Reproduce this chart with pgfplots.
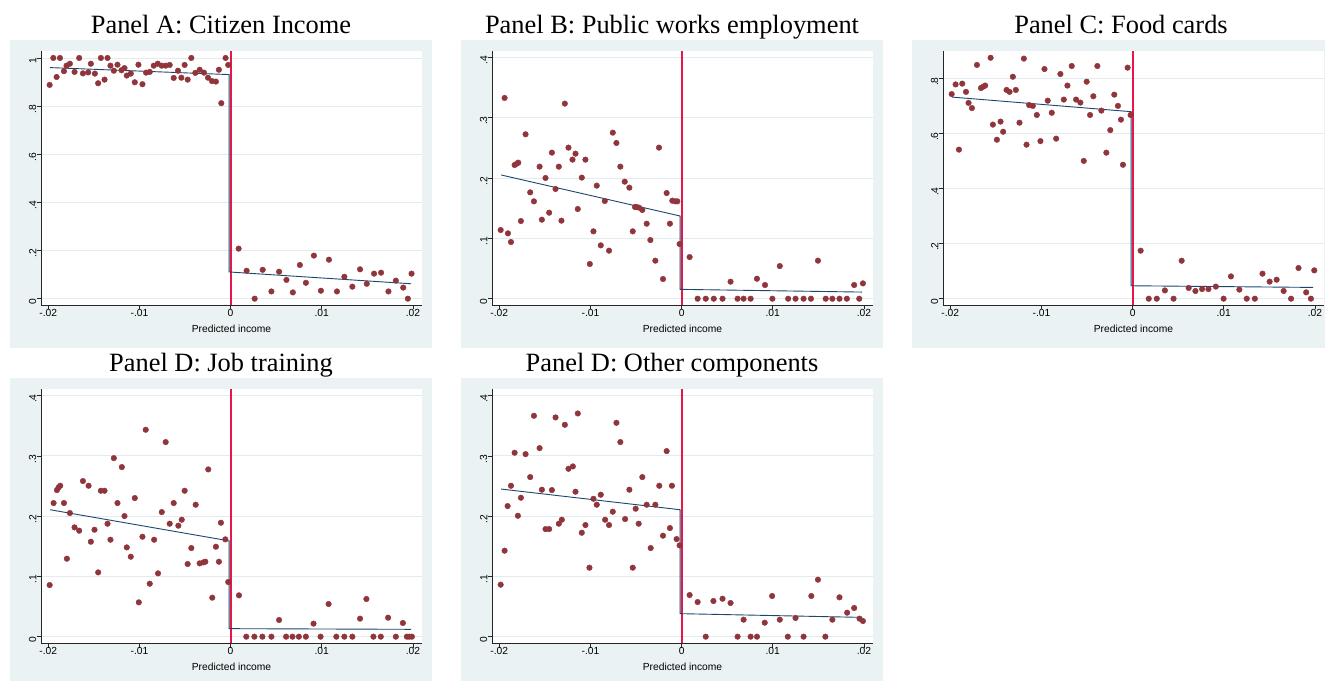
\documentclass[border=0pt]{standalone}
\usepackage{fontspec}
\setmainfont{Liberation Serif}
\setsansfont{Liberation Sans}
\usepackage{pgfplots}
\pgfplotsset{compat=1.18}
\definecolor{bgc}{HTML}{EAF2F3}
\definecolor{gridc}{HTML}{E2EBED}
\definecolor{mkc}{HTML}{90353B}
\definecolor{fitc}{HTML}{1A476F}
\definecolor{xlc}{HTML}{E8174A}
\pgfplotsset{
 panel/.style={
  scale only axis, width=381bp, height=254bp,
  xmin=-0.0208, xmax=0.0210,
  scaled x ticks=false, scaled y ticks=false,
  axis lines*=left, axis line style={-, black!85, line width=0.9bp},
  tick align=outside, major tick length=4.5bp,
  every tick/.style={black!85, line width=0.7bp},
  xtick={-0.02,-0.01,0,0.01,0.02},
  xticklabels={-.02,-.01,0,.01,.02},
  ymajorgrids, grid style={gridc, line width=0.9bp},
  axis background/.style={fill=white},
  tick label style={font=\sffamily\fontsize{10.3}{12}\selectfont},
  yticklabel style={rotate=90, anchor=south, inner sep=0pt, xshift=-3bp},
  xticklabel style={anchor=north, inner sep=0pt},
  xlabel={Predicted income},
  xlabel style={font=\sffamily\fontsize{10.3}{12}\selectfont, at={(axis description cs:0.5,0)}, anchor=center, yshift=-23.5bp},
  anchor=south west,
 },
 pts/.style={only marks, mark=*, mark size=2.8bp, mark options={fill=mkc, draw=mkc}, draw=mkc},
 fitl/.style={draw=fitc, line width=0.9bp, no marks},
 zl/.style={draw=xlc, line width=1.2bp, no marks},
}
\begin{document}
\begin{tikzpicture}[x=1bp,y=1bp]
\useasboundingbox (0,0) rectangle (1325,681);
% panel backgrounds
\fill[bgc] (10,333) rectangle (432,641);
\fill[bgc] (461,333) rectangle (883,641);
\fill[bgc] (912,333) rectangle (1325,641);
\fill[bgc] (10,0) rectangle (432,303);
\fill[bgc] (461,0) rectangle (883,303);
% titles
\begin{scope}[every node/.style={font=\fontsize{26.5}{30}\selectfont, anchor=base}]
\node at (221,647) {Panel A: Citizen Income};
\node at (672,647) {Panel B: Public works employment};
\node at (1121,647) {Panel C: Food cards};
\node at (221,309) {Panel D: Job training};
\node at (672,309) {Panel D: Other components};
\end{scope}

% ---------- Panel A
\begin{axis}[panel, at={(41bp,376bp)}, ymin=-0.0262, ymax=1.029,
  ytick={0,0.2,0.4,0.6,0.8,1}, yticklabels={0,.2,.4,.6,.8,1}]
\addplot[pts] coordinates {
(-0.01985,0.888) (-0.01945,1.0) (-0.01909,0.921) (-0.01872,1.0) (-0.01828,0.945)
(-0.0180,0.968) (-0.01763,0.976) (-0.01712,0.942) (-0.01661,1.0) (-0.0162,0.936)
(-0.01562,0.940) (-0.01533,0.976) (-0.01489,0.935) (-0.01453,0.895) (-0.01423,1.0)
(-0.01383,0.910) (-0.0135,1.0) (-0.01318,0.968) (-0.01281,0.947) (-0.01241,0.972)
(-0.01197,0.949) (-0.01164,0.958) (-0.01139,0.927) (-0.01095,0.935) (-0.01051,0.899)
(-0.01011,0.972) (-0.00967,0.891) (-0.00927,0.939) (-0.00887,0.942) (-0.00843,0.968)
(-0.00799,0.976) (-0.00755,0.968) (-0.00712,0.968) (-0.00668,0.971) (-0.00624,0.917)
(-0.00577,0.947) (-0.0054,0.918) (-0.00504,0.971) (-0.00471,0.910) (-0.00431,1.0)
(-0.00387,0.938) (-0.00339,0.951) (-0.00292,0.939) (-0.00248,0.918) (-0.00204,0.904)
(-0.00161,0.902) (-0.00128,0.951) (-0.00102,0.812) (-0.00055,1.0) (-0.00026,0.971)
(0.00088,0.208) (0.00176,0.116) (0.00264,0.0) (0.00352,0.120) (0.00448,0.030)
(0.00532,0.112) (0.00613,0.078) (0.00683,0.026) (0.0076,0.140) (0.00826,0.066)
(0.00914,0.179) (0.00991,0.033) (0.01079,0.162) (0.01167,0.030) (0.01248,0.091)
(0.01336,0.050) (0.0142,0.122) (0.01494,0.062) (0.01574,0.104) (0.01651,0.108)
(0.01732,0.030) (0.01813,0.075) (0.01894,0.046) (0.01945,0.0) (0.01985,0.104)
};
\addplot[zl] coordinates {(0.00005,-0.0262) (0.00005,1.029)};
\addplot[fitl] coordinates {(-0.0198,0.960) (-0.00016,0.931) (-0.00016,0.111) (0.0198,0.062)};
\end{axis}

% ---------- Panel B
\begin{axis}[panel, at={(492bp,376bp)}, ymin=-0.0104, ymax=0.4104,
  ytick={0,0.1,0.2,0.3,0.4}, yticklabels={0,.1,.2,.3,.4}]
\addplot[pts] coordinates {
(-0.01985,0.1138) (-0.01942,0.3326) (-0.01905,0.1083) (-0.01872,0.0939) (-0.01832,0.2215)
(-0.01807,0.2238) (-0.01792,0.2254) (-0.01763,0.1287) (-0.01712,0.2724) (-0.01661,0.1762)
(-0.0162,0.1613) (-0.01558,0.2188) (-0.01533,0.1309) (-0.01493,0.2) (-0.01453,0.1425)
(-0.01423,0.242) (-0.01383,0.1818) (-0.01347,0.2188) (-0.01318,0.1293) (-0.01281,0.3232)
(-0.01241,0.2503) (-0.01197,0.2304) (-0.01164,0.2403) (-0.01139,0.1486) (-0.01095,0.2006)
(-0.01055,0.2304) (-0.01007,0.0575) (-0.00967,0.1116) (-0.00931,0.1873) (-0.00887,0.0884)
(-0.00843,0.1619) (-0.00796,0.0796) (-0.00755,0.2751) (-0.00715,0.258) (-0.00672,0.2188)
(-0.00624,0.1939) (-0.00573,0.184) (-0.00536,0.1116) (-0.00511,0.1519) (-0.00493,0.1519)
(-0.00467,0.1508) (-0.00431,0.147) (-0.00383,0.1243) (-0.00343,0.0972) (-0.00288,0.063)
(-0.00248,0.2503) (-0.00204,0.0326) (-0.00164,0.1751) (-0.00128,0.1243) (-0.00102,0.1624)
(-0.00069,0.1613) (-0.00047,0.1613) (-0.00022,0.0906)
(0.00088,0.069) (0.00176,0) (0.00265,0) (0.00353,0) (0.00449,0)
(0.00537,0.0282) (0.00614,0) (0.0068,0) (0.00757,0) (0.00827,0.0331)
(0.00915,0.0227) (0.00996,0) (0.01077,0.0541) (0.01169,0) (0.0125,0)
(0.01338,0) (0.01419,0) (0.01496,0.063) (0.01581,0) (0.01654,0)
(0.01732,0) (0.01813,0) (0.01893,0.0227) (0.01949,0) (0.01989,0.0254)
};
\addplot[zl] coordinates {(0.00005,-0.0104) (0.00005,0.4104)};
\addplot[fitl] coordinates {(-0.0198,0.205) (-0.00016,0.137) (-0.00016,0.0155) (0.0198,0.011)};
\end{axis}

% ---------- Panel C
\begin{axis}[panel, at={(943bp,376bp)}, ymin=-0.0229, ymax=0.9007,
  ytick={0,0.2,0.4,0.6,0.8}, yticklabels={0,.2,.4,.6,.8}]
\addplot[pts] coordinates {
(-0.01985,0.744) (-0.01942,0.779) (-0.01905,0.542) (-0.01869,0.782) (-0.01828,0.752)
(-0.018,0.712) (-0.01763,0.693) (-0.01708,0.850) (-0.01664,0.766) (-0.01639,0.771)
(-0.01617,0.775) (-0.01558,0.876) (-0.01533,0.633) (-0.01489,0.578) (-0.01449,0.644)
(-0.0142,0.607) (-0.01383,0.759) (-0.0135,0.752) (-0.01314,0.807) (-0.01281,0.759)
(-0.01241,0.640) (-0.01193,0.873) (-0.01164,0.560) (-0.01135,0.704) (-0.01095,0.701)
(-0.01051,0.668) (-0.01011,0.573) (-0.00967,0.835) (-0.00931,0.720) (-0.00887,0.676)
(-0.00839,0.582) (-0.00792,0.817) (-0.00755,0.724) (-0.00715,0.775) (-0.00668,0.846)
(-0.0062,0.724) (-0.00573,0.713) (-0.00536,0.501) (-0.00504,0.789) (-0.00467,0.668)
(-0.00431,0.736) (-0.00387,0.846) (-0.00343,0.684) (-0.00288,0.531) (-0.00245,0.613)
(-0.00201,0.742) (-0.00161,0.701) (-0.00128,0.651) (-0.00106,0.487) (-0.00055,0.840)
(-0.00022,0.668)
(0.00088,0.1745) (0.00177,0) (0.00265,0) (0.00354,0.030) (0.00449,0)
(0.00538,0.138) (0.00615,0.039) (0.00689,0.028) (0.00762,0.035) (0.00832,0.035)
(0.00913,0.044) (0.00998,0) (0.01079,0.081) (0.01171,0.033) (0.01252,0)
(0.01341,0) (0.01425,0.091) (0.01503,0.062) (0.0158,0.069) (0.01657,0.028)
(0.01738,0) (0.0182,0.1115) (0.01904,0.023) (0.01956,0) (0.01993,0.103)
};
\addplot[zl] coordinates {(0.00005,-0.0229) (0.00005,0.9007)};
\addplot[fitl] coordinates {(-0.0198,0.733) (-0.00016,0.680) (-0.00016,0.047) (0.0198,0.041)};
\end{axis}

% ---------- Panel D
\begin{axis}[panel, at={(41bp,38bp)}, ymin=-0.0105, ymax=0.4111,
  ytick={0,0.1,0.2,0.3,0.4}, yticklabels={0,.1,.2,.3,.4}]
\addplot[pts] coordinates {
(-0.01985,0.0857) (-0.01942,0.2218) (-0.01905,0.2433) (-0.01887,0.2477) (-0.01869,0.2505)
(-0.01828,0.2218) (-0.01796,0.1294) (-0.01763,0.2052) (-0.01712,0.1814) (-0.01661,0.1759)
(-0.0162,0.2583) (-0.01558,0.2505) (-0.01533,0.1576) (-0.01493,0.1775) (-0.01453,0.1067)
(-0.01423,0.2422) (-0.01383,0.2422) (-0.0135,0.1875) (-0.01318,0.1609) (-0.01281,0.2964)
(-0.01241,0.2218) (-0.01193,0.2815) (-0.01164,0.2002) (-0.01139,0.1482) (-0.01095,0.1327)
(-0.01051,0.2301) (-0.01007,0.057) (-0.00967,0.1659) (-0.00931,0.3434) (-0.00887,0.0879)
(-0.00839,0.1609) (-0.00796,0.1051) (-0.00755,0.2068) (-0.00712,0.323) (-0.00668,0.1875)
(-0.00624,0.2218) (-0.00573,0.1842) (-0.00536,0.1941) (-0.00504,0.2422) (-0.00471,0.1206)
(-0.00431,0.1471) (-0.00383,0.219) (-0.00339,0.1217) (-0.00299,0.1233) (-0.00277,0.1244)
(-0.00245,0.2776) (-0.00201,0.0647) (-0.00161,0.1493) (-0.00128,0.1244) (-0.00106,0.1891)
(-0.00058,0.1615) (-0.00026,0.0907)
(0.00092,0.0686) (0.00172,0) (0.00261,0) (0.00349,0) (0.00448,0)
(0.00532,0.0277) (0.00609,0) (0.00679,0) (0.00749,0) (0.00826,0)
(0.0091,0.0216) (0.00987,0) (0.01075,0.0542) (0.0116,0) (0.01248,0)
(0.01336,0) (0.0142,0.0299) (0.0149,0.0625) (0.01567,0) (0.01648,0)
(0.01728,0.0315) (0.01813,0) (0.0189,0.0227) (0.01934,0) (0.0196,0) (0.01989,0)
};
\addplot[zl] coordinates {(0.00005,-0.0105) (0.00005,0.4111)};
\addplot[fitl] coordinates {(-0.0198,0.2107) (-0.00016,0.159) (-0.00016,0.0133) (0.0198,0.0122)};
\end{axis}

% ---------- Panel E
\begin{axis}[panel, at={(492bp,38bp)}, ymin=-0.0105, ymax=0.4111,
  ytick={0,0.1,0.2,0.3,0.4}, yticklabels={0,.1,.2,.3,.4}]
\addplot[pts] coordinates {
(-0.01985,0.0863) (-0.01942,0.1427) (-0.01909,0.2168) (-0.01872,0.2505) (-0.01832,0.3053)
(-0.01796,0.2007) (-0.01763,0.2306) (-0.01712,0.303) (-0.01661,0.2649) (-0.0162,0.3666)
(-0.01558,0.313) (-0.01533,0.2439) (-0.01493,0.1786) (-0.01453,0.1786) (-0.01423,0.2433)
(-0.01383,0.3639) (-0.01347,0.1875) (-0.01314,0.1941) (-0.01281,0.3517) (-0.01241,0.2787)
(-0.01193,0.2826) (-0.01164,0.2406) (-0.01139,0.3705) (-0.01095,0.1725) (-0.01055,0.1853)
(-0.01011,0.1145) (-0.00967,0.2289) (-0.00931,0.219) (-0.00887,0.2356) (-0.00839,0.1941)
(-0.00796,0.1853) (-0.00755,0.2074) (-0.00715,0.355) (-0.00672,0.323) (-0.0062,0.1952)
(-0.00573,0.2439) (-0.00536,0.1145) (-0.00504,0.2124) (-0.00471,0.1875) (-0.00431,0.2649)
(-0.00383,0.219) (-0.00339,0.1471) (-0.00288,0.219) (-0.00245,0.2505) (-0.00204,0.1676)
(-0.00164,0.308) (-0.00128,0.1803) (-0.00106,0.2505) (-0.00055,0.162) (-0.00022,0.1515)
(0.00088,0.0691) (0.00176,0.0575) (0.00265,0) (0.00349,0.0592) (0.00449,0.063)
(0.00537,0.0559) (0.00614,0) (0.0068,0.0282) (0.00757,0) (0.00827,0)
(0.00912,0.0232) (0.00993,0.0675) (0.01077,0.0282) (0.01165,0) (0.0125,0.031)
(0.01338,0) (0.01423,0.0675) (0.01496,0.0946) (0.01577,0) (0.01654,0.0282)
(0.01732,0.0653) (0.01816,0.0398) (0.01893,0.0476) (0.01952,0.0299) (0.01989,0.026)
};
\addplot[zl] coordinates {(0.00005,-0.0105) (0.00005,0.4111)};
\addplot[fitl] coordinates {(-0.0198,0.245) (-0.00016,0.2107) (-0.00016,0.0382) (0.0198,0.032)};
\end{axis}
\end{tikzpicture}
\end{document}
